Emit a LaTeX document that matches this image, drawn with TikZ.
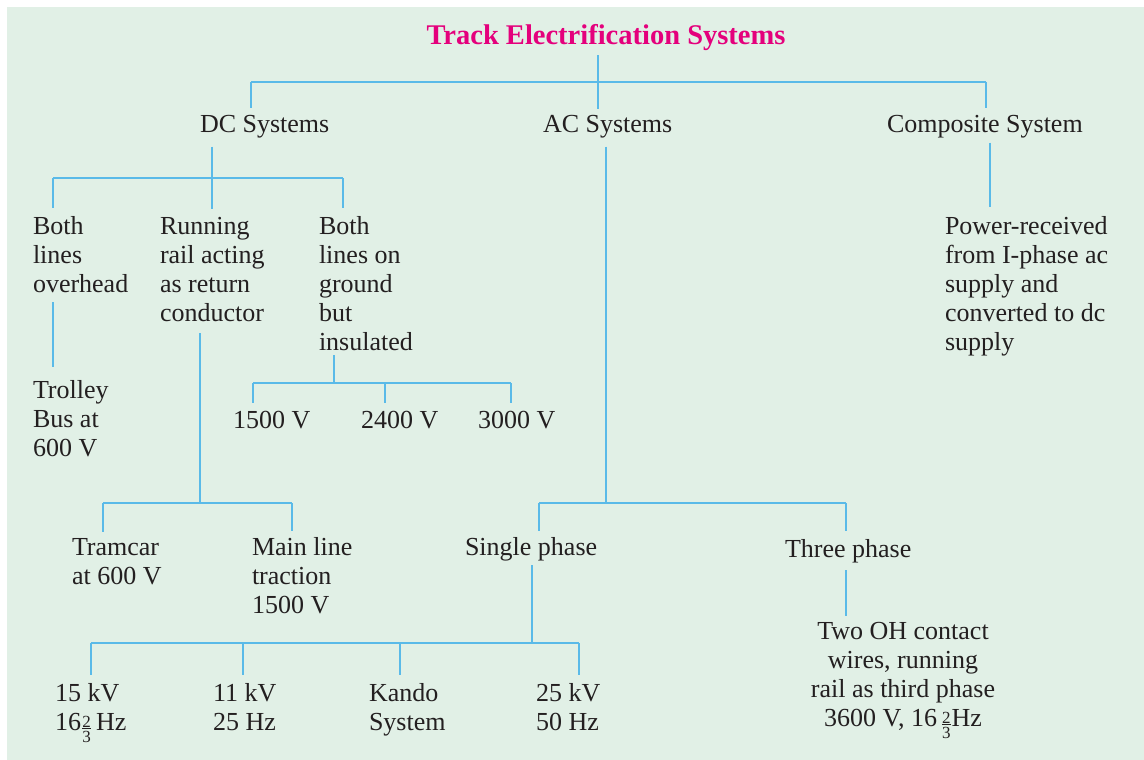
\documentclass[tikz,border=0pt]{standalone}
\usepackage{fontspec}
\setmainfont{Liberation Serif}
\definecolor{panel}{RGB}{225,240,230}
\definecolor{linkcol}{RGB}{90,186,232}
\definecolor{titlecol}{RGB}{228,0,124}
\definecolor{txtcol}{RGB}{35,31,32}
\newcommand\Lst[1]{\vtop{\let\\\cr\baselineskip=29pt\lineskiplimit=0pt\halign{##\hfil\cr#1\crcr}}}
\newcommand\Cst[1]{\vtop{\let\\\cr\baselineskip=29pt\lineskiplimit=0pt\halign{\hfil##\hfil\cr#1\crcr}}}
\newcommand\twothirds{\lower12pt\vbox{\fontsize{17}{17}\selectfont\offinterlineskip\hbox{2}\kern1.4pt\hrule height 0.9pt\kern1.4pt\hbox{3}}}
\begin{document}
\begin{tikzpicture}[x=1pt,y=-1pt,
  lbl/.style={inner sep=0pt,outer sep=0pt,text=txtcol,font=\fontsize{26}{29}\selectfont,anchor=base west},
  link/.style={draw=linkcol,line width=2pt}]
\useasboundingbox (0,0) rectangle (1144,760);
\fill[white] (0,0) rectangle (1144,760);
\fill[panel] (7,7) rectangle (1144,760);
% nodes
\node[inner sep=0pt,anchor=base,text=titlecol,font=\bfseries\fontsize{28.5}{32}\selectfont] (title) at (606,45) {Track Electrification Systems};
\node[lbl] (dc) at (200,132) {DC Systems};
\node[lbl] (ac) at (543,132) {AC Systems};
\node[lbl] (cs) at (887,132) {Composite System};
\node[lbl] (bo) at (33,234) {\Lst{Both\\lines\\overhead}};
\node[lbl] (rr) at (160,234) {\Lst{Running\\rail acting\\as return\\conductor}};
\node[lbl] (bg) at (319,234) {\Lst{Both\\lines on\\ground\\but\\insulated}};
\node[lbl] (tr) at (33,398) {\Lst{Trolley\\Bus at\\600 V}};
\node[lbl] (v1) at (233,428) {1500 V};
\node[lbl] (v2) at (361,428) {2400 V};
\node[lbl] (v3) at (478,428) {3000 V};
\node[lbl] (tram) at (72,555) {\Lst{Tramcar\\at 600 V}};
\node[lbl] (main) at (252,555) {\Lst{Main line\\traction\\1500 V}};
\node[lbl] (sp) at (465,555) {Single phase};
\node[lbl] (tp) at (785,557) {Three phase};
\node[lbl] (f15) at (55,701) {\Lst{15 kV\\16\kern1.5pt\relax\twothirds\kern5pt\relax Hz}};
\node[lbl] (f11) at (213,701) {\Lst{11 kV\\25 Hz}};
\node[lbl] (kando) at (369,701) {\Lst{Kando\\System}};
\node[lbl] (f25) at (536,701) {\Lst{25 kV\\50 Hz}};
\node[lbl,anchor=base] (oh) at (903,639) {\Cst{Two OH contact\\wires, running\\rail as third phase\\3600 V, 16\kern5pt\relax\twothirds\kern1pt\relax Hz}};
\node[lbl] (pr) at (945,234) {\Lst{Power-received\\from I-phase ac\\supply and\\converted to dc\\supply}};
% junctions
\coordinate (tb) at (598,82);
\coordinate (tdc) at (251,82);
\coordinate (tcs) at (986,82);
\coordinate (dcb) at (212,178);
\coordinate (dbo) at (53,178);
\coordinate (dbg) at (343,178);
\coordinate (bgb) at (334,383);
\coordinate (b1) at (253,383);
\coordinate (b2) at (385,383);
\coordinate (b3) at (511,383);
\coordinate (rrb) at (200,503);
\coordinate (rtram) at (103,503);
\coordinate (rmain) at (292,503);
\coordinate (acb) at (606,503);
\coordinate (asp) at (539,503);
\coordinate (atp) at (846,503);
\coordinate (spb) at (532,643);
\coordinate (s1) at (91,643);
\coordinate (s2) at (243,643);
\coordinate (s3) at (400,643);
\coordinate (s4) at (579,643);
\coordinate (csx) at (990,160);
\coordinate (tpx) at (846,600);
% title level
\draw[link,shorten <=4pt] (tb |- title.south) -- (tb);
\draw[link] (tdc) -- (tcs);
\draw[link,shorten >=7pt] (tdc) -- (tdc |- dc.north);
\draw[link,shorten >=6pt] (tb) -- (tb |- ac.north);
\draw[link,shorten >=7pt] (tcs) -- (tcs |- cs.north);
% DC systems
\draw[link,shorten <=9pt] (dcb |- dc.south) -- (dcb);
\draw[link] (dbo) -- (dbg);
\draw[link,shorten >=8pt] (dbo) -- (dbo |- bo.north);
\draw[link,shorten >=8pt] (dcb) -- (dcb |- rr.north);
\draw[link,shorten >=8pt] (dbg) -- (dbg |- bg.north);
\draw[link,shorten <=10pt,shorten >=13pt] (dbo |- bo.south) -- (dbo |- tr.north);
\draw[link,shorten <=5pt] (bgb |- bg.south) -- (bgb);
\draw[link] (b1) -- (b3);
\draw[link,shorten >=8pt] (b1) -- (b1 |- v1.north);
\draw[link,shorten >=8pt] (b2) -- (b2 |- v2.north);
\draw[link,shorten >=8pt] (b3) -- (b3 |- v3.north);
\draw[link,shorten <=12pt] (rrb |- rr.south) -- (rrb);
\draw[link] (rtram) -- (rmain);
\draw[link,shorten >=6pt] (rtram) -- (rtram |- tram.north);
\draw[link,shorten >=6pt] (rmain) -- (rmain |- main.north);
% AC systems
\draw[link,shorten <=9pt] (acb |- ac.south) -- (acb);
\draw[link] (asp) -- (atp);
\draw[link,shorten >=6pt] (asp) -- (asp |- sp.north);
\draw[link,shorten >=8pt] (atp) -- (atp |- tp.north);
\draw[link,shorten <=4.5pt] (spb |- sp.south) -- (spb);
\draw[link] (s1) -- (s4);
\draw[link,shorten >=8pt] (s1) -- (s1 |- f15.north);
\draw[link,shorten >=8pt] (s2) -- (s2 |- f11.north);
\draw[link,shorten >=8pt] (s3) -- (s3 |- kando.north);
\draw[link,shorten >=8pt] (s4) -- (s4 |- f25.north);
\draw[link,shorten <=7.5pt,shorten >=6pt] (tpx |- tp.south) -- (tpx |- oh.north);
% composite
\draw[link,shorten <=5pt,shorten >=9pt] (csx |- cs.south) -- (csx |- pr.north);
\end{tikzpicture}
\end{document}
